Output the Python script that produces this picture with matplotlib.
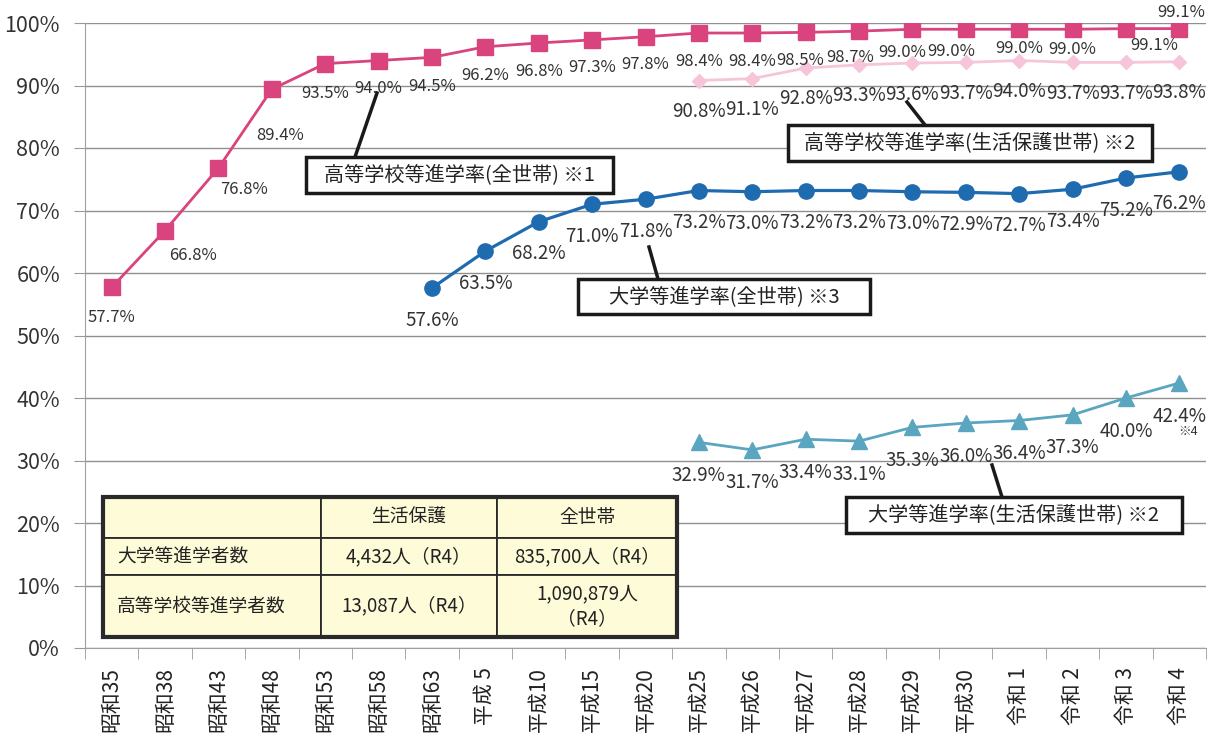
import matplotlib
matplotlib.use("Agg")
import matplotlib.pyplot as plt
from matplotlib.patches import Rectangle
from matplotlib.lines import Line2D

plt.rcParams['font.family'] = ['Noto Sans CJK JP', 'DejaVu Sans']

# DATA #
years = ["昭和35", "昭和38", "昭和43", "昭和48", "昭和53", "昭和58", "昭和63",
         "平成 5", "平成10", "平成15", "平成20", "平成25", "平成26", "平成27",
         "平成28", "平成29", "平成30", "令和 1", "令和 2", "令和 3", "令和 4"]
hs_all = [57.7, 66.8, 76.8, 89.4, 93.5, 94.0, 94.5, 96.2, 96.8, 97.3, 97.8,
          98.4, 98.4, 98.5, 98.7, 99.0, 99.0, 99.0, 99.0, 99.1, 99.1]
hs_welfare = [90.8, 91.1, 92.8, 93.3, 93.6, 93.7, 94.0, 93.7, 93.7, 93.8]
univ_all = [57.6, 63.5, 68.2, 71.0, 71.8, 73.2, 73.0, 73.2, 73.2, 73.0,
            72.9, 72.7, 73.4, 75.2, 76.2]
univ_welfare = [32.9, 31.7, 33.4, 33.1, 35.3, 36.0, 36.4, 37.3, 40.0, 42.4]

table_header = ["", "生活保護", "全世帯"]
table_rows = [["大学等進学者数", "4,432人（R4）", "835,700人（R4）"],
              ["高等学校等進学者数", "13,087人（R4）", "1,090,879人\n（R4）"]]

callouts = ["高等学校等進学率(全世帯) ※1",
            "高等学校等進学率(生活保護世帯) ※2",
            "大学等進学率(全世帯) ※3",
            "大学等進学率(生活保護世帯) ※2"]

# LAYOUT (pixels of the 1210x740 picture) #
W, H = 1210, 740
X0, X1, Y0, Y1 = 85, 1206, 648, 23


def to_ax(px, py):
    return (px - X0) / (X1 - X0), (Y0 - py) / (Y0 - Y1)


fig = plt.figure(figsize=(W / 100, H / 100), dpi=100)
ax = fig.add_axes([X0 / W, 1 - Y0 / H, (X1 - X0) / W, (Y0 - Y1) / H])

x_all = list(range(len(years)))
x_hw = x_all[years.index("平成25"):]
x_ua = x_all[years.index("昭和63"):]
x_uw = x_all[years.index("平成25"):]

pink = "#D9437E"
lpink = "#F7C5D9"
blue = "#1E6BB0"
lblue = "#5AA6C0"

ax.plot(x_hw, hs_welfare, color=lpink, lw=2, marker="D", ms=7, zorder=3)
ax.plot(x_all, hs_all, color=pink, lw=2, marker="s", ms=12, zorder=4)
ax.plot(x_ua, univ_all, color=blue, lw=2.3, marker="o", ms=11, zorder=4)
ax.plot(x_uw, univ_welfare, color=lblue, lw=2, marker="^", ms=12, zorder=4)

# data labels: offsets in pixels (dx, down)
hs_off = [(0, 30), (28, 25), (26, 22), (8, 46), (0, 30), (0, 28), (0, 29),
          (0, 29), (0, 29), (0, 28), (0, 28), (0, 29), (0, 29), (-6, 28),
          (-9, 26), (-10, 23), (-15, 22), (0, 19), (0, 20), (28, 17), (2, -16)]
txt_c = "#333333"
for x, v, (dx, dy) in zip(x_all, hs_all, hs_off):
    ax.annotate(f"{v:.1f}%", (x, v), xytext=(dx, -dy), textcoords="offset pixels",
                ha="center", va="center", fontsize=12, color=txt_c, zorder=5)
for x, v in zip(x_hw, hs_welfare):
    ax.annotate(f"{v:.1f}%", (x, v), xytext=(0, -31), textcoords="offset pixels",
                ha="center", va="center", fontsize=13.5, color=txt_c, zorder=5)
for x, v in zip(x_ua, univ_all):
    ax.annotate(f"{v:.1f}%", (x, v), xytext=(0, -32), textcoords="offset pixels",
                ha="center", va="center", fontsize=13.5, color=txt_c, zorder=5)
for x, v in zip(x_uw, univ_welfare):
    ax.annotate(f"{v:.1f}%", (x, v), xytext=(0, -33), textcoords="offset pixels",
                ha="center", va="center", fontsize=13.5, color=txt_c, zorder=5)
ax.annotate("※4", (x_uw[-1], univ_welfare[-1]), xytext=(9, -48),
            textcoords="offset pixels", ha="center", va="center",
            fontsize=9, color=txt_c)

# axes
ax.set_xlim(-0.5, len(years) - 0.5)
ax.set_ylim(0, 100)
ax.set_yticks(range(0, 101, 10))
ax.set_yticklabels([f"{t}%" for t in range(0, 101, 10)], fontsize=15.5, color=txt_c)
ax.set_xticks(x_all)
ax.set_xticklabels(years, rotation=90, fontsize=15, color="#222222")
ax.set_xticks([i - 0.5 for i in range(len(years) + 1)], minor=True)
ax.tick_params(axis="x", which="major", length=0, pad=14)
ax.tick_params(axis="x", which="minor", length=8, color="#999999")
ax.tick_params(axis="y", length=8, color="#999999", pad=10)
ax.grid(axis="y", color="#8f8f8f", lw=1)
ax.set_axisbelow(True)
for s in ["top", "right"]:
    ax.spines[s].set_visible(False)
ax.spines["left"].set_color("#a0a0a0")
ax.spines["bottom"].set_color("#a0a0a0")

# callout boxes
boxes = [(306, 157, 613, 193), (788, 125, 1152, 161),
         (578, 279, 870, 314), (846, 497, 1182, 533)]
leaders = [((355, 157), (377, 93)), ((925, 125), (907, 102)),
           ((658, 279), (649, 247)), ((1002, 497), (992, 465))]
for label, (bx0, by0, bx1, by1), (p0, p1) in zip(callouts, boxes, leaders):
    a0 = to_ax(*p0)
    a1 = to_ax(*p1)
    ax.add_line(Line2D([a0[0], a1[0]], [a0[1], a1[1]], transform=ax.transAxes,
                       color="#1a1a1a", lw=2.5, zorder=6, clip_on=False))
    lx, ly = to_ax(bx0, by1)
    ux, uy = to_ax(bx1, by0)
    ax.add_patch(Rectangle((lx, ly), ux - lx, uy - ly, transform=ax.transAxes,
                           fc="white", ec="#1a1a1a", lw=2.5, zorder=7, clip_on=False))
    ax.text((lx + ux) / 2, (ly + uy) / 2, label, transform=ax.transAxes,
            ha="center", va="center", fontsize=14.5, color="#222222", zorder=8)

# table
col_edges = [103, 321, 497, 677]
row_edges = [497, 538, 575, 637]
cells = [table_header] + table_rows
for r, row in enumerate(cells):
    for c, val in enumerate(row):
        lx, ly = to_ax(col_edges[c], row_edges[r + 1])
        ux, uy = to_ax(col_edges[c + 1], row_edges[r])
        ax.add_patch(Rectangle((lx, ly), ux - lx, uy - ly, transform=ax.transAxes,
                               fc="#FDFBD8", ec="#2a2a2a", lw=1.3, zorder=7))
        if c == 0:
            tx, ha = to_ax(col_edges[0] + 14, 0)[0], "left"
        else:
            tx, ha = (lx + ux) / 2, "center"
        ax.text(tx, (ly + uy) / 2, val, transform=ax.transAxes, ha=ha, va="center",
                fontsize=13.5, color="#222222", zorder=8, linespacing=1.25)
lx, ly = to_ax(col_edges[0], row_edges[-1])
ux, uy = to_ax(col_edges[-1], row_edges[0])
ax.add_patch(Rectangle((lx, ly), ux - lx, uy - ly, transform=ax.transAxes,
                       fc="none", ec="#2a2a2a", lw=3, zorder=8))

fig.savefig("out.png", dpi=100)
